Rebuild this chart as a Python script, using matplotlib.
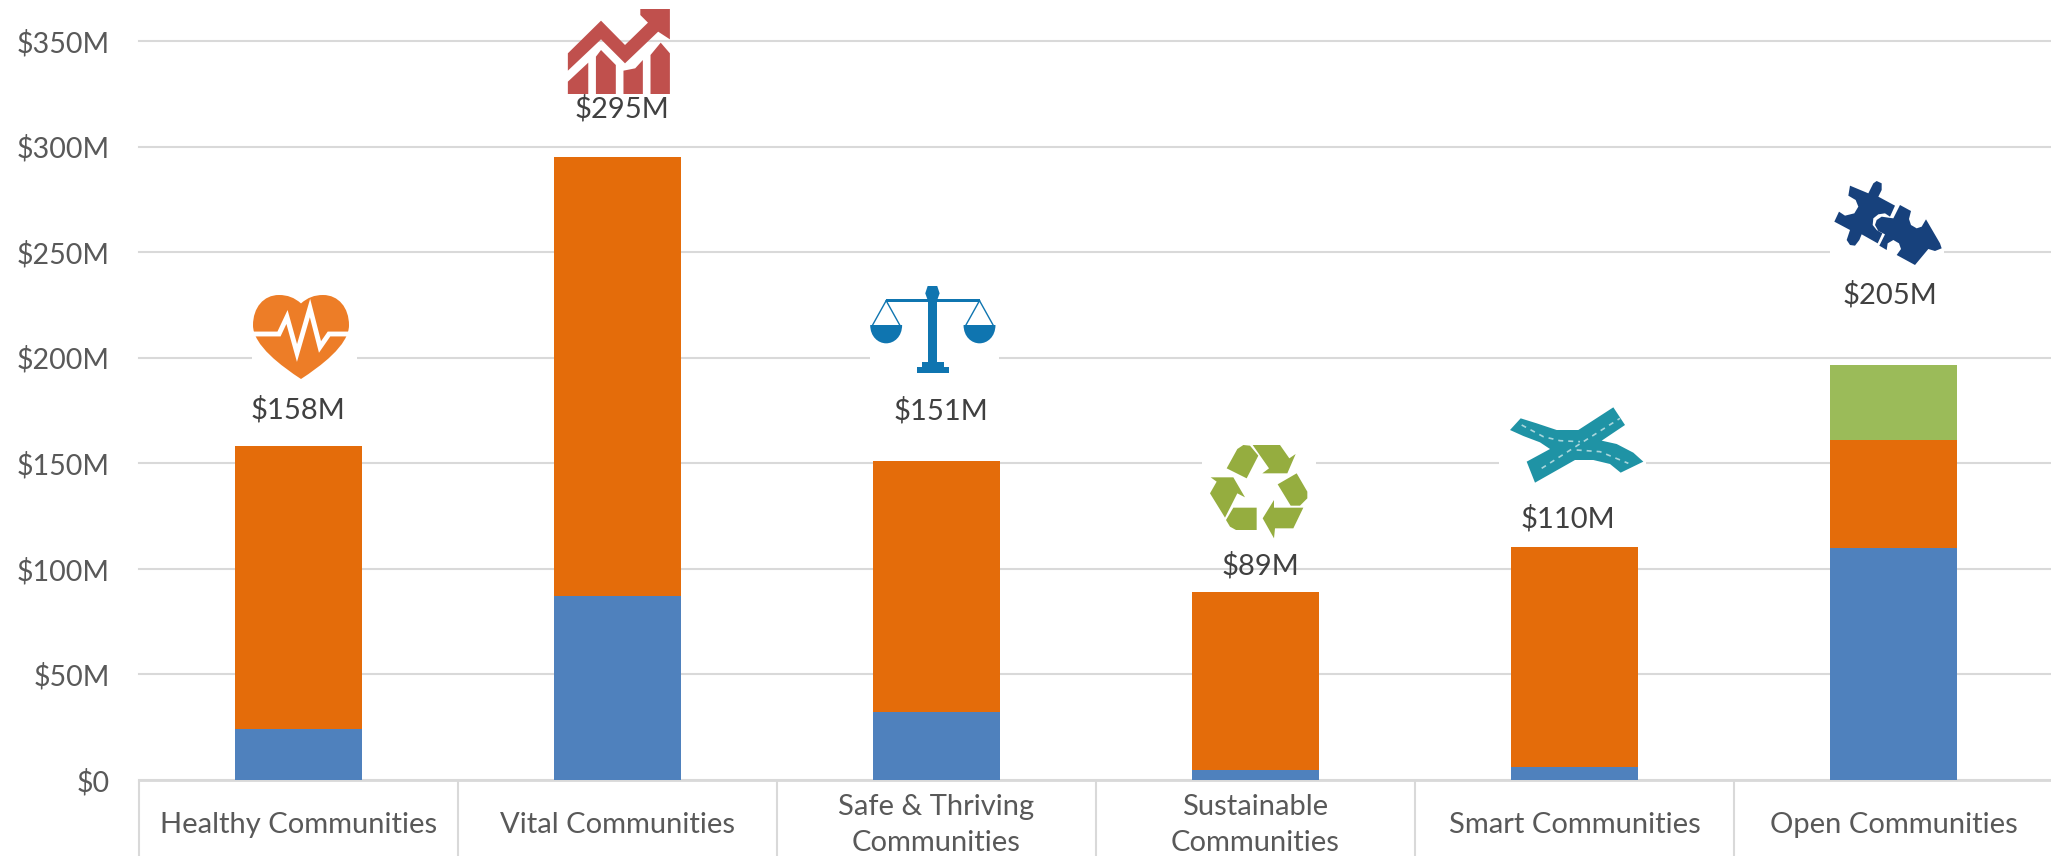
import matplotlib
matplotlib.use("Agg")
import matplotlib.pyplot as plt
import numpy as np
from matplotlib.patches import Polygon, PathPatch, Rectangle
from matplotlib.path import Path

plt.rcParams['font.family'] = ['Lato', 'DejaVu Sans']

categories = ["Healthy Communities", "Vital Communities", "Safe & Thriving\nCommunities",
              "Sustainable\nCommunities", "Smart Communities", "Open Communities"]
blue_vals = [24, 87, 32, 4.5, 6, 110]
orange_vals = [134, 208, 119, 84.5, 104.5, 51]
green_vals = [0, 0, 0, 0, 0, 35.5]
total_labels = [158, 295, 151, 89, 110, 205]
y_ticks = [0, 50, 100, 150, 200, 250, 300, 350]
y_labels = ["$0", "$50M", "$100M", "$150M", "$200M", "$250M", "$300M", "$350M"]

W, H = 2051, 856
GRID = "#d9d9d9"

fig = plt.figure(figsize=(W / 100, H / 100), dpi=100)
ax = fig.add_axes([139 / W, (H - 780) / H, 1914 / W, 739 / H])

x = np.arange(len(categories))
blue = np.array(blue_vals)
orange = np.array(orange_vals)
green = np.array(green_vals)
ax.bar(x, blue, width=0.4, color="#4f81bd", zorder=3)
ax.bar(x, orange, width=0.4, bottom=blue, color="#e46c0a", zorder=3)
ax.bar(x, green, width=0.4, bottom=blue + orange, color="#9bbb59", zorder=3)

ax.set_xlim(-0.5, 5.5)
ax.set_ylim(0, 350)
ax.set_yticks(y_ticks)
ax.set_yticklabels(y_labels, fontsize=20.6, color="#595959")
ax.tick_params(axis="y", length=0, pad=21)
ax.grid(axis="y", color=GRID, lw=1.5, zorder=0, clip_on=False)
ax.set_axisbelow(True)
for s in ["top", "right", "left"]:
    ax.spines[s].set_visible(False)
ax.spines["bottom"].set_color(GRID)
ax.spines["bottom"].set_linewidth(2)

# separators are the major ticks, names sit on the minor ticks
ax.set_xticks(np.arange(-0.5, 6), labels=[""] * 7)
ax.set_xticks(x, labels=categories, minor=True)
ax.tick_params(axis="x", which="major", length=55, width=1.5, color=GRID)
ax.tick_params(axis="x", which="minor", length=0, pad=32.5, labelsize=21, labelcolor="#595959")
for t in ax.get_xticklabels(minor=True):
    t.set_verticalalignment("center")
    t.set_linespacing(1.45)

# overlay in image pixels for the icons and the total labels
ov = fig.add_axes([0, 0, 1, 1], zorder=5)
ov.set_xlim(0, W)
ov.set_ylim(H, 0)
ov.axis("off")
ov.patch.set_alpha(0)

label_pos = [(298, 410), (622, 109), (941, 411), (1260, 566), (1568, 519), (1890, 295)]
for v, (lx, ly) in zip(total_labels, label_pos):
    ov.text(lx, ly, f"${v}M", ha="center", va="center", fontsize=21, color="#404040")


def conv(pts, x0, y0, sx, sy):
    return [(x0 + a / sx, y0 + b / sy) for a, b in pts]


def poly(pts, color, x0=0, y0=0, sx=3, sy=3, **kw):
    ov.add_patch(Polygon(conv(pts, x0, y0, sx, sy), closed=True, fc=color, ec="none", **kw))


def mask(x1, y1, x2, y2):
    ov.add_patch(Rectangle((x1, y1), x2 - x1, y2 - y1, fc="white", ec="none"))


# heart
mask(252, 290, 357, 385)
hx, hy, hw, hh = 253, 295, 96, 84
hp = [(.5, .10), (.43, .03), (.36, 0), (.27, 0), (.11, 0), (0, .15), (0, .36),
      (0, .60), (.30, .85), (.5, 1), (.70, .85), (1, .60), (1, .36), (1, .15),
      (.89, 0), (.73, 0), (.64, 0), (.57, .03), (.5, .10)]
codes = [Path.MOVETO] + [Path.CURVE4] * 18
ov.add_patch(PathPatch(Path([(hx + a * hw, hy + b * hh) for a, b in hp], codes), fc="#ed7d27", ec="none"))
ecg = [(253, 334), (279, 334), (287, 317), (297, 353), (310, 308), (320, 347), (329, 334), (349, 334)]
ov.plot(*zip(*ecg), color="white", lw=3.5, solid_joinstyle="miter")

# trend chart
RED = "#c0504d"
for pts in [
    [(1113, 160), (1178, 62), (1225, 135), (1270, 68), (1255, 45), (1255, 27), (1313, 27),
     (1313, 118), (1290, 95), (1225, 190), (1178, 118), (1113, 212)],
    [(1113, 245), (1153, 188), (1153, 282), (1113, 282)],
    [(1168, 170), (1178, 150), (1207, 195), (1207, 282), (1168, 282)],
    [(1222, 212), (1245, 205), (1260, 180), (1260, 282), (1222, 282)],
    [(1275, 165), (1295, 128), (1313, 160), (1313, 282), (1275, 282)],
]:
    poly(pts, RED, sx=1.96, sy=3)

# scales
mask(870, 285, 999, 376)
SC = "#0f75b0"
zx, zy, sx2 = 800, 150, 1.2534
poly([(160, 420), (172, 420), (172, 640), (160, 640)], SC, zx, zy, sx2)
poly([(160, 408), (172, 408), (175, 430), (172, 450), (160, 450), (157, 430)], SC, zx, zy, sx2)
poly([(108, 447), (225, 447), (225, 457), (108, 457)], SC, zx, zy, sx2)
poly([(153, 635), (180, 635), (180, 652), (153, 652)], SC, zx, zy, sx2)
poly([(147, 652), (187, 652), (187, 670), (147, 670)], SC, zx, zy, sx2)
for c in (108, 225):
    for d in (-17, 17):
        ov.plot([zx + c / sx2, zx + (c + d) / sx2], [zy + 452 / 3, zy + 525 / 3], color=SC, lw=1)
    pan = [(c - 20, 525), (c + 20, 525), (c + 20, 560), (c + 10, 580), (c, 580),
           (c - 10, 580), (c - 20, 560), (c - 20, 525)]
    pcodes = [Path.MOVETO, Path.LINETO, Path.CURVE4, Path.CURVE4, Path.CURVE4,
              Path.CURVE4, Path.CURVE4, Path.CURVE4]
    ov.add_patch(PathPatch(Path(conv(pan, zx, zy, sx2, 3), pcodes), fc=SC, ec="none"))

# recycle
mask(1202, 440, 1316, 540)
REC = "#95ad3f"
for pts in [
    [(80, 100), (112, 42), (130, 30), (150, 32), (175, 62), (140, 130)],
    [(158, 30), (240, 30), (268, 70), (287, 57), (262, 115), (187, 115), (207, 100)],
    [(233, 148), (290, 115), (322, 170), (322, 190), (300, 212), (272, 212)],
    [(310, 218), (280, 280), (225, 280), (222, 310), (188, 250), (222, 195), (222, 218)],
    [(170, 218), (170, 285), (108, 285), (90, 275), (78, 255), (100, 218)],
    [(32, 127), (100, 127), (135, 187), (112, 175), (75, 248), (30, 175), (50, 140)],
]:
    poly(pts, REC, 1200, 435)

# road crossing
mask(1499, 405, 1646, 486)
road = [(30, 90), (62, 55), (110, 70), (170, 90), (235, 90), (340, 22), (375, 75), (305, 122),
        (350, 132), (400, 158), (430, 185), (362, 218), (330, 192), (280, 180), (225, 180),
        (105, 248), (80, 185), (150, 147), (120, 127), (70, 108)]
poly(road, "#1f93a5", 1500, 400)
for line in [
    [(65, 75), (130, 110), (180, 122), (240, 125)],
    [(125, 205), (250, 125), (360, 55)],
    [(230, 150), (300, 155), (385, 190)],
]:
    px, py = zip(*conv(line, 1500, 400, 3, 3))
    ov.plot(px, py, color="#a9d6dc", lw=1.2, ls=(0, (3, 3)))

# puzzle
mask(1830, 178, 1944, 268)
PZ = "#17417c"
poly([(75, 32), (130, 55), (145, 25), (155, 18), (170, 25), (170, 45), (160, 65), (210, 92),
      (195, 125), (180, 115), (160, 118), (145, 130), (143, 150), (155, 165), (172, 175),
      (158, 205), (110, 178), (103, 195), (90, 212), (75, 210), (65, 195), (75, 165),
      (28, 140), (42, 110), (60, 122), (88, 115), (100, 95), (92, 75), (70, 62)], PZ, 1825, 175)
poly([(225, 90), (258, 108), (252, 132), (258, 150), (275, 160), (290, 155), (303, 133),
      (345, 205), (350, 220), (330, 228), (310, 222), (270, 270), (215, 240), (228, 222),
      (222, 205), (205, 195), (188, 205), (185, 225), (163, 212), (180, 178), (160, 168),
      (150, 150), (155, 135), (170, 125), (190, 128), (205, 130)], PZ, 1825, 175)

fig.savefig("out.png", dpi=100)
